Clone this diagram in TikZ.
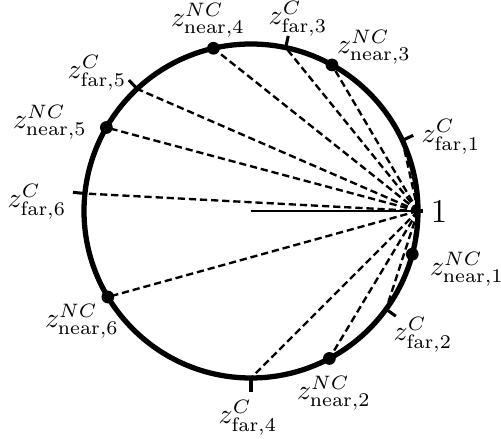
\documentclass[tikz,border=0pt]{standalone}
\begin{document}
\begin{tikzpicture}[x=0.36pt,y=0.36pt,line width=0.85pt,font=\normalsize,
  chord/.style={dash pattern=on 2.6pt off 1.4pt},
  tickmark/.style={line width=1.1pt},
  nearpt/.style={fill,circle,inner sep=0pt,minimum size=4.6pt}]
  \useasboundingbox (-251,-228) rectangle (250,211);

  \coordinate (O) at (0,0);
  \coordinate (P1) at (0:167);

  % far points (ticks)
  \coordinate (F1) at (25:167);
  \coordinate (F2) at (-36:167);
  \coordinate (F3) at (78:167);
  \coordinate (F4) at (-90:167);
  \coordinate (F5) at (133:167);
  \coordinate (F6) at (174:167);

  % near points (dots)
  \coordinate (N1) at (-15:167);
  \coordinate (N2) at (-62:167);
  \coordinate (N3) at (61:167);
  \coordinate (N4) at (103:167);
  \coordinate (N5) at (150:167);
  \coordinate (N6) at (-149:167);

  % chords from 1
  \draw[chord] (P1) -- (F1);
  \draw[chord] (P1) -- (F2);
  \draw[chord] (P1) -- (F3);
  \draw[chord] (P1) -- (F4);
  \draw[chord] (P1) -- (F5);
  \draw[chord] (P1) -- (F6);
  \draw[chord] (P1) -- (N1);
  \draw[chord] (P1) -- (N2);
  \draw[chord] (P1) -- (N3);
  \draw[chord] (P1) -- (N4);
  \draw[chord] (P1) -- (N5);
  \draw[chord] (P1) -- (N6);

  % circle and radius
  \draw[line width=1.9pt] (O) circle (167);
  \draw (O) -- (P1);

  % ticks
  \draw[tickmark] (0:165) -- (0:172);
  \draw[tickmark] (25:165) -- (25:179);
  \draw[tickmark] (-36:165) -- (-36:179);
  \draw[tickmark] (78:165) -- (78:179);
  \draw[tickmark] (-90:165) -- (-90:181);
  \draw[tickmark] (133:165) -- (133:179);
  \draw[tickmark] (174:165) -- (174:179);

  % dots
  \node[nearpt] (D1) at (N1) {};
  \node[nearpt] (D2) at (N2) {};
  \node[nearpt] (D3) at (N3) {};
  \node[nearpt] (D4) at (N4) {};
  \node[nearpt] (D5) at (N5) {};
  \node[nearpt] (D6) at (N6) {};

  % labels
  \node[font=\large] (L1) at (188,-1) {$1$};
  \node (LF1) at (200,74) {$z^{C}_{\mathrm{far},1}$};
  \node (LF2) at (172,-124) {$z^{C}_{\mathrm{far},2}$};
  \node (LF3) at (47,192) {$z^{C}_{\mathrm{far},3}$};
  \node (LF4) at (-3,-207) {$z^{C}_{\mathrm{far},4}$};
  \node (LF5) at (-154,138) {$z^{C}_{\mathrm{far},5}$};
  \node (LF6) at (-214,9) {$z^{C}_{\mathrm{far},6}$};
  \node (LN1) at (216,-58) {$z^{NC}_{\mathrm{near},1}$};
  \node (LN2) at (83,-182) {$z^{NC}_{\mathrm{near},2}$};
  \node (LN3) at (123,164) {$z^{NC}_{\mathrm{near},3}$};
  \node (LN4) at (-43,191) {$z^{NC}_{\mathrm{near},4}$};
  \node (LN5) at (-201,89) {$z^{NC}_{\mathrm{near},5}$};
  \node (LN6) at (-169,-110) {$z^{NC}_{\mathrm{near},6}$};
\end{tikzpicture}
\end{document}
